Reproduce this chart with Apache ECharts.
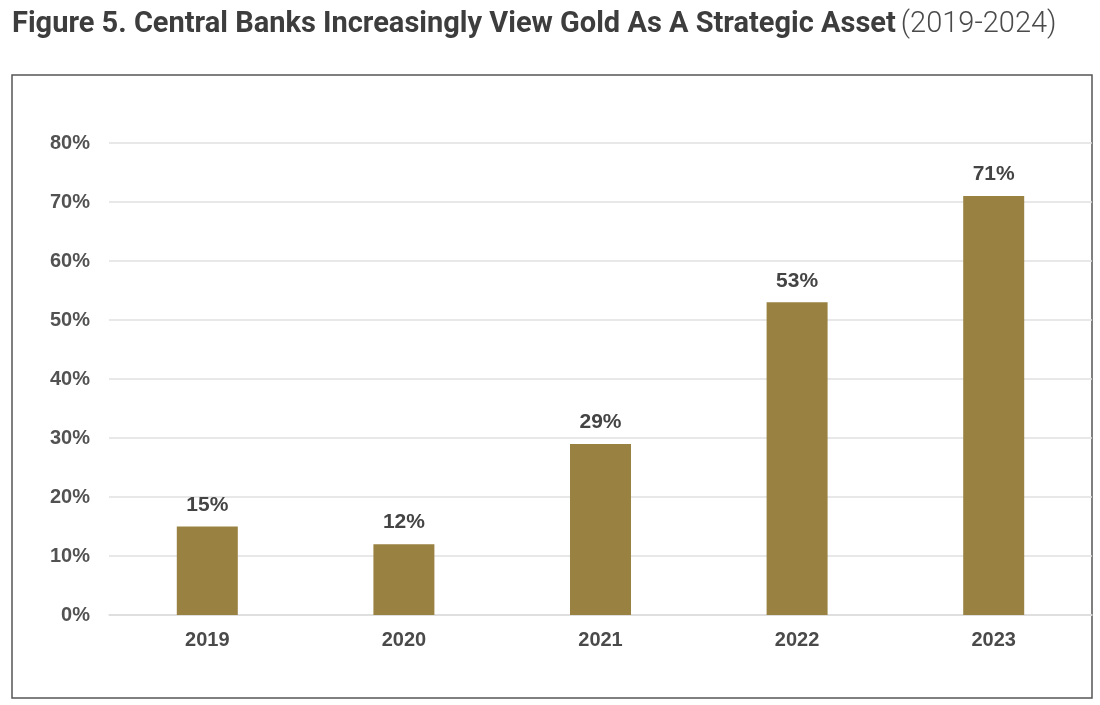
<!DOCTYPE html>
<html><head><meta charset="utf-8">
<script src="https://cdn.jsdelivr.net/npm/echarts@6/dist/echarts.min.js"></script>
<style>html,body{margin:0;padding:0;background:#fff}#c{width:1100px;height:705px}</style>
</head><body><div id="c"></div>
<script>
const categories = ['2019','2020','2021','2022','2023'];
const values = [15, 12, 29, 53, 71];
const yTicks = [0, 10, 20, 30, 40, 50, 60, 70, 80];

const chart = echarts.init(document.getElementById('c'));
chart.setOption({
  backgroundColor: '#ffffff',
  animation: false,
  title: {
    left: 7, top: 5,
    text: '{b|Figure 5. Central Banks Increasingly View Gold As A Strategic Asset} {r|(2019-2024)}',
    textStyle: {
      rich: {
        b: { fontFamily: 'Roboto, sans-serif', fontWeight: 'bold', fontSize: 29, color: '#3d3d3d' },
        r: { fontFamily: 'Roboto, sans-serif', fontWeight: 300, fontSize: 29, color: '#4a4a4a' }
      }
    }
  },
  graphic: [{
    type: 'rect', shape: { x: 12, y: 75, width: 1080, height: 623 },
    style: { fill: 'none', stroke: '#555555', lineWidth: 1.5 }, z: -1
  }],
  grid: { left: 109, right: 8, top: 143, bottom: 90, containLabel: false },
  xAxis: {
    type: 'category', data: categories,
    axisLine: { show: true, lineStyle: { color: '#dcdcdc', width: 1.5 } },
    axisTick: { show: false },
    axisLabel: { color: '#4a4a4a', fontSize: 20, fontWeight: 'bold', fontFamily: 'Liberation Sans, Arial, sans-serif', margin: 15 }
  },
  yAxis: {
    type: 'value', min: yTicks[0], max: yTicks[yTicks.length - 1], interval: 10,
    axisLine: { show: false }, axisTick: { show: false },
    splitLine: { lineStyle: { color: '#e0e0e0', width: 1.5 } },
    axisLabel: { formatter: '{value}%', color: '#525252', fontSize: 20, fontWeight: 'bold', fontFamily: 'Liberation Sans, Arial, sans-serif', margin: 19 }
  },
  series: [{
    type: 'bar', data: values, barWidth: 61,
    itemStyle: { color: '#998241' },
    label: { show: true, position: 'top', distance: 11, formatter: '{c}%', color: '#444444', fontSize: 21, fontWeight: 'bold', fontFamily: 'Liberation Sans, Arial, sans-serif' }
  }]
});
</script>
</body></html>
